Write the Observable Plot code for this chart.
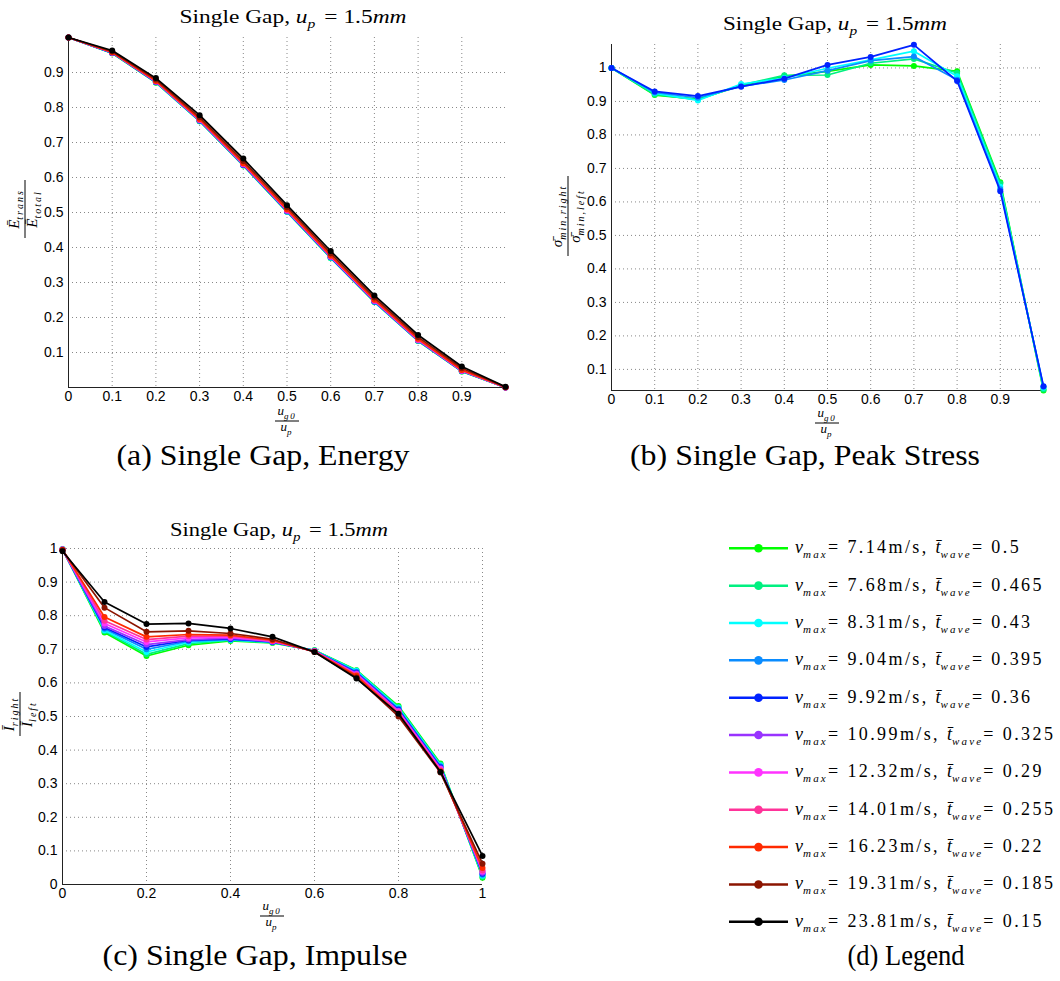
<!DOCTYPE html>
<html><head><meta charset="utf-8">
<script src="https://cdn.jsdelivr.net/npm/d3@7"></script>
<script src="https://cdn.jsdelivr.net/npm/@observablehq/plot@0.6"></script>
<style>
body{margin:0;background:#fff;}
#wrap{position:relative;width:1060px;height:981px;overflow:hidden;background:#fff;}
#wrap > svg{position:absolute;}
</style></head><body><div id="wrap"></div>
<script>
// ---------- data ----------
const gapRatio = [0, 0.1, 0.2, 0.3, 0.4, 0.5, 0.6, 0.7, 0.8, 0.9, 1];
const vmaxLabels = ["7.14","7.68","8.31","9.04","9.92","10.99","12.32","14.01","16.23","19.31","23.81"];
const twaveLabels = ["0.5","0.465","0.43","0.395","0.36","0.325","0.29","0.255","0.22","0.185","0.15"];
const seriesColors = ["#00ff00","#00f080","#00ffff","#0a8cff","#0022ff","#9933ff","#ff33ff","#ff3399","#ff2a00","#8b1500","#000000"];

// (a) transmitted energy ratio, one row per series
const energyRatio = [
  [1, 0.955, 0.871, 0.761, 0.634, 0.502, 0.370, 0.244, 0.133, 0.046, 0.000],
  [1, 0.955, 0.872, 0.761, 0.635, 0.502, 0.370, 0.245, 0.133, 0.046, 0.000],
  [1, 0.956, 0.872, 0.762, 0.635, 0.503, 0.371, 0.245, 0.134, 0.047, 0.000],
  [1, 0.956, 0.873, 0.762, 0.636, 0.503, 0.372, 0.246, 0.134, 0.047, 0.000],
  [1, 0.956, 0.873, 0.763, 0.636, 0.504, 0.372, 0.246, 0.135, 0.047, 0.000],
  [1, 0.957, 0.874, 0.764, 0.637, 0.505, 0.373, 0.247, 0.135, 0.048, 0.000],
  [1, 0.957, 0.874, 0.764, 0.638, 0.506, 0.374, 0.248, 0.136, 0.048, 0.000],
  [1, 0.957, 0.875, 0.765, 0.639, 0.507, 0.375, 0.249, 0.137, 0.049, 0.000],
  [1, 0.958, 0.876, 0.767, 0.641, 0.509, 0.377, 0.251, 0.139, 0.050, 0.001],
  [1, 0.960, 0.880, 0.772, 0.647, 0.515, 0.383, 0.257, 0.144, 0.055, 0.001],
  [1, 0.963, 0.884, 0.778, 0.654, 0.521, 0.390, 0.263, 0.150, 0.060, 0.002]
];
// (b) peak stress ratio, first five series
const stressRatio = [
  [1, 0.919, 0.907, 0.947, 0.975, 0.990, 1.009, 1.006, 0.990, 0.659, 0.037],
  [1, 0.921, 0.905, 0.949, 0.978, 0.979, 1.014, 1.027, 0.985, 0.655, 0.040],
  [1, 0.925, 0.903, 0.952, 0.970, 0.999, 1.024, 1.050, 0.975, 0.645, 0.045],
  [1, 0.927, 0.911, 0.945, 0.964, 0.992, 1.022, 1.034, 0.965, 0.638, 0.048],
  [1, 0.930, 0.916, 0.944, 0.968, 1.009, 1.033, 1.069, 0.961, 0.632, 0.050]
];
// (c) impulse ratio
const impulseRatio = [
  [0.998, 0.750, 0.680, 0.712, 0.725, 0.719, 0.697, 0.638, 0.531, 0.360, 0.020],
  [0.998, 0.754, 0.685, 0.717, 0.727, 0.720, 0.697, 0.637, 0.528, 0.357, 0.023],
  [0.998, 0.757, 0.692, 0.721, 0.728, 0.721, 0.696, 0.636, 0.526, 0.355, 0.026],
  [0.997, 0.761, 0.700, 0.724, 0.729, 0.722, 0.696, 0.633, 0.523, 0.352, 0.029],
  [0.997, 0.765, 0.707, 0.727, 0.731, 0.722, 0.695, 0.630, 0.520, 0.349, 0.032],
  [0.997, 0.769, 0.714, 0.729, 0.733, 0.723, 0.695, 0.628, 0.517, 0.346, 0.035],
  [0.997, 0.777, 0.722, 0.734, 0.736, 0.724, 0.694, 0.626, 0.515, 0.344, 0.039],
  [0.996, 0.785, 0.729, 0.739, 0.739, 0.725, 0.694, 0.624, 0.512, 0.340, 0.042],
  [0.996, 0.796, 0.737, 0.744, 0.742, 0.727, 0.693, 0.621, 0.506, 0.337, 0.049],
  [0.995, 0.824, 0.752, 0.755, 0.747, 0.730, 0.692, 0.616, 0.500, 0.333, 0.062],
  [0.992, 0.841, 0.775, 0.777, 0.762, 0.737, 0.692, 0.613, 0.508, 0.335, 0.085]
];
const xTicksAB = [0, 0.1, 0.2, 0.3, 0.4, 0.5, 0.6, 0.7, 0.8, 0.9];
const yTicksA = [0.1, 0.2, 0.3, 0.4, 0.5, 0.6, 0.7, 0.8, 0.9];
const yTicksB = [0.1, 0.2, 0.3, 0.4, 0.5, 0.6, 0.7, 0.8, 0.9, 1];
const xTicksC = [0, 0.2, 0.4, 0.6, 0.8, 1];
const yTicksC = [0, 0.1, 0.2, 0.3, 0.4, 0.5, 0.6, 0.7, 0.8, 0.9, 1];
const captionTexts = ["(a) Single Gap, Energy", "(b) Single Gap, Peak Stress", "(c) Single Gap, Impulse", "(d) Legend"];

// ---------- helpers ----------
const SERIF = "'Liberation Serif','DejaVu Serif',serif";
const SANS = "'Liberation Sans',Arial,sans-serif";
const wrap = d3.select("#wrap");

// kinds: r roman, R roman spaced, i italic, s subscript
function addMath(text, parts, fs, subFs, spacing = 0) {
  let shift = 0;
  parts.forEach(([str, kind]) => {
    const t = text.append("tspan").text(str);
    const target = kind === "s" ? fs * 0.28 : 0;
    if (target !== shift) { t.attr("dy", target - shift); shift = target; }
    t.attr("font-style", (kind === "r" || kind === "R") ? "normal" : "italic")
     .attr("font-size", kind === "s" ? subFs : fs);
    if (kind === "s") t.attr("letter-spacing", subFs * 0.2);
    if (kind === "R") t.attr("letter-spacing", spacing);
  });
}

function fraction(svg, cx, cy, rot, num, den, half, fs, subFs) {
  const g = svg.append("g").attr("transform", `translate(${cx},${cy}) rotate(${rot})`)
    .attr("font-family", SERIF).attr("fill", "#000");
  addMath(g.append("text").attr("text-anchor", "middle").attr("y", -fs * 0.28 - 2), num, fs, subFs);
  g.append("line").attr("x1", -half).attr("x2", half).attr("y1", 0).attr("y2", 0)
    .attr("stroke", "#000").attr("stroke-width", 1);
  addMath(g.append("text").attr("text-anchor", "middle").attr("y", fs * 0.72 + 1), den, fs, subFs);
}

function title(svg, cx, cy, len) {
  const t = svg.append("text").attr("x", cx).attr("y", cy).attr("text-anchor", "middle")
    .attr("font-family", SERIF).attr("fill", "#000")
    .attr("textLength", len).attr("lengthAdjust", "spacingAndGlyphs");
  addMath(t, [["Single Gap, ", "r"], ["u", "i"], ["p", "s"], [" = 1.5", "r"], ["mm", "i"]], 18, 12);
}

function panel(values, o) {
  const marks = [
    Plot.ruleX(o.xGrid, {stroke: "#888", strokeDasharray: "1,3"}),
    Plot.ruleY(o.yGrid, {stroke: "#888", strokeDasharray: "1,3"}),
    Plot.ruleX([0], {stroke: "#222"}),
    Plot.ruleY([o.yDomain[0]], {stroke: "#222"})
  ];
  values.forEach((arr, i) => {
    const rows = arr.map((v, j) => ({x: gapRatio[j], y: v}));
    marks.push(Plot.line(rows, {x: "x", y: "y", stroke: seriesColors[i], strokeWidth: 1.7}));
    marks.push(Plot.dot(rows, {x: "x", y: "y", fill: seriesColors[i], r: 3}));
  });
  const svg = Plot.plot({
    width: o.W, height: o.H,
    marginLeft: o.mL, marginRight: o.mR, marginTop: o.mT, marginBottom: o.mB,
    style: {fontFamily: SANS, fontSize: "14px", color: "#000", background: "transparent", overflow: "visible"},
    x: {domain: [0, 1], ticks: o.xTicks, tickFormat: d => String(d), tickSize: 0, tickPadding: 4, label: null},
    y: {domain: o.yDomain, ticks: o.yTicks, tickFormat: d => String(d), tickSize: 0, tickPadding: 5, label: null},
    marks
  });
  svg.style.left = o.left + "px";
  svg.style.top = o.top + "px";
  wrap.node().appendChild(svg);
  return d3.select(svg);
}

// ---------- panel (a) ----------
const sa = panel(energyRatio, {left: 0, top: 0, W: 530, H: 440, mL: 68, mR: 25, mT: 37, mB: 53,
  yDomain: [0, 1], xTicks: xTicksAB, yTicks: yTicksA, xGrid: xTicksAB.slice(1), yGrid: yTicksA});
title(sa, 293, 23, 227);
fraction(sa, 287, 421, 0, [["u", "i"], ["g0", "s"]], [["u", "i"], ["p", "s"]], 12, 13, 9);
fraction(sa, 25, 209, -90, [["Ē", "i"], ["trans", "s"]], [["Ē", "i"], ["total", "s"]], 29, 15, 10);

// ---------- panel (b) ----------
const sb = panel(stressRatio, {left: 530, top: 0, W: 530, H: 440, mL: 81, mR: 17, mT: 44, mB: 50,
  yDomain: [0.037, 1.07], xTicks: xTicksAB, yTicks: yTicksB, xGrid: xTicksAB.slice(1), yGrid: yTicksB});
title(sb, 305, 30, 224);
fraction(sb, 297, 423, 0, [["u", "i"], ["g0", "s"]], [["u", "i"], ["p", "s"]], 12, 13, 9);
fraction(sb, 38, 216, -90, [["σ̄", "i"], ["min,right", "s"]], [["σ̄", "i"], ["min,left", "s"]], 40, 15, 10);

// ---------- panel (c) ----------
const sc = panel(impulseRatio, {left: 0, top: 500, W: 530, H: 440, mL: 62, mR: 48, mT: 48, mB: 56,
  yDomain: [0, 1], xTicks: xTicksC, yTicks: yTicksC, xGrid: xTicksC.slice(1), yGrid: yTicksC.slice(1)});
title(sc, 279, 36, 218);
fraction(sc, 272, 416, 0, [["u", "i"], ["g0", "s"]], [["u", "i"], ["p", "s"]], 12, 13, 9);
fraction(sc, 20, 214, -90, [["Ī", "i"], ["right", "s"]], [["Ī", "i"], ["left", "s"]], 22, 15, 10);

// ---------- legend + captions ----------
const ov = wrap.append("svg").attr("width", 1060).attr("height", 981).style("left", "0px").style("top", "0px");
vmaxLabels.forEach((v, i) => {
  const y = 548.3 + i * 37.35;
  ov.append("line").attr("x1", 729).attr("x2", 788).attr("y1", y).attr("y2", y)
    .attr("stroke", seriesColors[i]).attr("stroke-width", 2.5);
  ov.append("circle").attr("cx", 758.5).attr("cy", y).attr("r", 4.3).attr("fill", seriesColors[i]);
  const t = ov.append("text").attr("x", 795).attr("y", y + 5).attr("font-family", SERIF).attr("fill", "#000");
  addMath(t, [["v", "i"], ["max", "s"], ["= " + v + "m/s, ", "R"], ["t̄", "i"], ["wave", "s"], ["= " + twaveLabels[i], "R"]], 18, 11, 2.4);
});
const capPos = [[263, 465, 293], [805, 465, 350], [255, 965, 305], [906, 965, 117]];
captionTexts.forEach((c, i) => {
  ov.append("text").attr("x", capPos[i][0]).attr("y", capPos[i][1]).attr("text-anchor", "middle")
    .attr("font-family", SERIF).attr("font-size", 29).attr("fill", "#000")
    .attr("textLength", capPos[i][2]).attr("lengthAdjust", "spacingAndGlyphs").text(c);
});
</script></body></html>
